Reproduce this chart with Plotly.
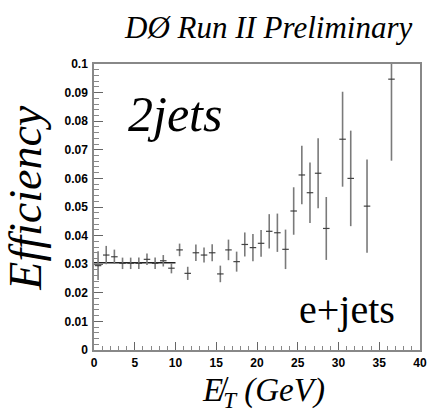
import plotly.graph_objects as go

# Data
et_centers = [0.5, 1.5, 2.5, 3.5, 4.5, 5.5, 6.5, 7.5, 8.5, 9.5,
              10.5, 11.5, 12.5, 13.5, 14.5, 15.5, 16.5, 17.5, 18.5, 19.5,
              20.5, 21.5, 22.5, 23.5, 24.5, 25.5, 26.5, 27.5, 28.5,
              30.5, 31.5, 33.5, 36.5]
efficiency = [0.0295, 0.0332, 0.0326, 0.0303, 0.0303, 0.0303, 0.0317, 0.0303, 0.0312, 0.0286,
              0.0350, 0.0268, 0.0340, 0.0332, 0.0340, 0.0266, 0.0350, 0.0309, 0.0369, 0.0358,
              0.0373, 0.0415, 0.0410, 0.0352, 0.0486, 0.0612, 0.0550, 0.0618, 0.0425,
              0.0737, 0.0600, 0.0503, 0.0947]
eff_errors = [0.0050, 0.0032, 0.0025, 0.0020, 0.0020, 0.0020, 0.0020, 0.0020, 0.0020, 0.0018,
              0.0022, 0.0023, 0.0029, 0.0026, 0.0030, 0.0029, 0.0036, 0.0035, 0.0042, 0.0048,
              0.0047, 0.0060, 0.0067, 0.0069, 0.0083, 0.0102, 0.0106, 0.0122, 0.0110,
              0.0166, 0.0167, 0.0163, 0.0285]
x_half_width = [0.4] * len(et_centers)

fit_range = [0, 10]
fit_value = [0.0305, 0.0305]

x_tickvals = [0, 5, 10, 15, 20, 25, 30, 35, 40]
x_ticktext = ["<b>%d</b>" % v for v in x_tickvals]
y_tickvals = [0, 0.01, 0.02, 0.03, 0.04, 0.05, 0.06, 0.07, 0.08, 0.09, 0.1]
y_ticktext = ["<b>%s</b>" % t for t in
              ["0", "0.01", "0.02", "0.03", "0.04", "0.05", "0.06", "0.07", "0.08", "0.09", "0.1"]]

serif = "Liberation Serif"
tickfont = dict(family="Liberation Sans", size=12, color="black")

fig = go.Figure()

fig.add_trace(go.Scatter(
    x=fit_range, y=fit_value, mode="lines",
    line=dict(color="#222222", width=1.5), showlegend=False, hoverinfo="skip"))

fig.add_trace(go.Scatter(
    x=et_centers, y=efficiency, mode="markers",
    marker=dict(size=1, color="#444444"),
    error_y=dict(type="data", array=eff_errors, visible=True, thickness=1.6, width=0, color="#7a7a7a"),
    error_x=dict(type="data", array=x_half_width, visible=True, thickness=1.2, width=0, color="#444444"),
    showlegend=False, cliponaxis=True))

fig.update_layout(
    width=436, height=420,
    margin=dict(l=94, r=9, t=64, b=70),
    paper_bgcolor="white", plot_bgcolor="white",
    font=dict(family=serif),
    xaxis=dict(range=[0, 40], tickvals=x_tickvals, ticktext=x_ticktext, ticks="inside", ticklen=8,
               tickcolor="#666", tickwidth=1, showline=True, linecolor="#888", linewidth=1.5,
               mirror=True, showgrid=False, zeroline=False, tickfont=tickfont, ticklabelstandoff=1,
               minor=dict(dtick=1, ticks="inside", ticklen=4, tickcolor="#888", showgrid=False)),
    yaxis=dict(range=[0, 0.1], tickvals=y_tickvals, ticktext=y_ticktext, ticks="inside", ticklen=9,
               tickcolor="#666", tickwidth=1, showline=True, linecolor="#888", linewidth=1.5,
               mirror=True, showgrid=False, zeroline=False, tickfont=tickfont, ticklabelstandoff=2,
               minor=dict(dtick=0.002, ticks="inside", ticklen=5, tickcolor="#888", showgrid=False)),
    annotations=[
        dict(text="2jets", x=0.249, y=0.825, xref="paper", yref="paper",
             xanchor="center", yanchor="middle", showarrow=False,
             font=dict(family=serif, size=50, style="italic", color="black")),
        dict(text="e+jets", x=0.775, y=0.14, xref="paper", yref="paper",
             xanchor="center", yanchor="middle", showarrow=False,
             font=dict(family=serif, size=40, color="black")),
        dict(text="DØ Run II Preliminary", x=0.535, y=1.126, xref="paper", yref="paper",
             xanchor="center", yanchor="middle", showarrow=False,
             font=dict(family=serif, size=31, style="italic", color="black")),
        dict(text="E\u0338<sub>T</sub> (GeV)", x=0.52, y=-0.147, xref="paper", yref="paper",
             xanchor="center", yanchor="middle", showarrow=False,
             font=dict(family=serif, size=33, style="italic", color="black")),
        dict(text="Efficiency", x=-0.21, y=0.531, xref="paper", yref="paper",
             xanchor="center", yanchor="middle", showarrow=False, textangle=-90,
             font=dict(family=serif, size=46, style="italic", color="black")),
    ],
)

fig.write_html("out.html")
